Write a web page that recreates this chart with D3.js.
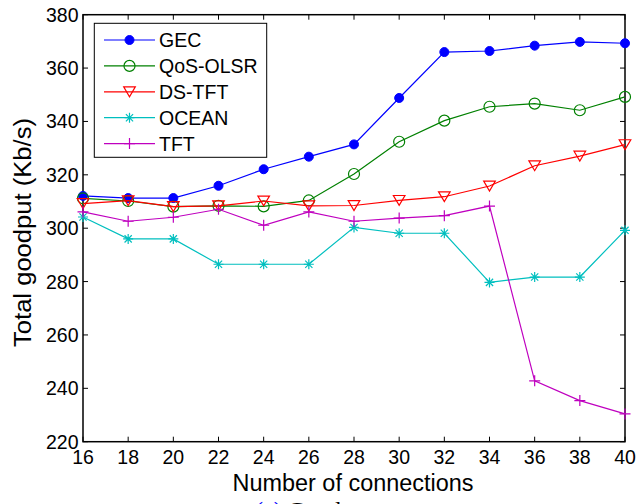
<!DOCTYPE html>
<html><head><meta charset="utf-8">
<script src="https://cdn.jsdelivr.net/npm/d3@7"></script>
<style>body{margin:0;background:#fff;} svg{display:block;}</style>
</head><body>
<script>
const xValues = [16,18,20,22,24,26,28,30,32,34,36,38,40];
const gec     = [312.1,311.3,311.3,315.9,322.1,326.8,331.4,348.8,366.0,366.4,368.4,369.8,369.3];
const qosOlsr = [311.2,310.2,308.1,308.4,308.2,310.4,320.3,332.4,340.3,345.5,346.7,344.2,349.2];
const dsTft   = [309.2,310.3,308.1,308.4,310.2,308.4,308.5,310.4,311.8,315.8,323.4,327.0,331.3];
const ocean   = [304.2,296.0,296.0,286.5,286.5,286.5,300.3,298.1,298.1,279.7,281.7,281.7,299.2];
const tft     = [306.1,302.6,304.1,307.1,301.1,306.1,302.6,303.8,304.7,308.3,242.8,235.4,230.4];
const seriesNames = ["GEC","QoS-OLSR","DS-TFT","OCEAN","TFT"];
const xTicks = [16,18,20,22,24,26,28,30,32,34,36,38,40];
const yTicks = [220,240,260,280,300,320,340,360,380];

const W = 639, H = 504;
const L = 83, R = 625, T = 14.7, B = 441.7;
const svg = d3.select("body").append("svg").attr("width", W).attr("height", H);
const x = d3.scaleLinear().domain([16,40]).range([L,R]);
const y = d3.scaleLinear().domain([220,380]).range([B,T]);
const font = "Liberation Sans, Arial, sans-serif";

const styles = [
  {color:"#0000ff", marker:"dot"},
  {color:"#008000", marker:"circle"},
  {color:"#ff0000", marker:"tri"},
  {color:"#00bfbf", marker:"star"},
  {color:"#bf00bf", marker:"plus"}
];
const data = [gec, qosOlsr, dsTft, ocean, tft];

function drawMarker(g, type, cx, cy, color) {
  if (type === "dot") {
    g.append("circle").attr("cx",cx).attr("cy",cy).attr("r",4.5).attr("fill",color).attr("stroke",color);
  } else if (type === "circle") {
    g.append("circle").attr("cx",cx).attr("cy",cy).attr("r",5.5).attr("fill","none").attr("stroke",color).attr("stroke-width",1.2);
  } else if (type === "tri") {
    const s = 5.8;
    g.append("path").attr("d",`M${cx-s},${cy-s*0.85}L${cx+s},${cy-s*0.85}L${cx},${cy+s*0.85}Z`)
      .attr("fill","none").attr("stroke",color).attr("stroke-width",1.2);
  } else if (type === "star") {
    const s = 5;
    let d = `M${cx-s},${cy}L${cx+s},${cy}M${cx},${cy-s}L${cx},${cy+s}`;
    const k = s*0.72;
    d += `M${cx-k},${cy-k}L${cx+k},${cy+k}M${cx-k},${cy+k}L${cx+k},${cy-k}`;
    g.append("path").attr("d",d).attr("stroke",color).attr("stroke-width",1.2).attr("fill","none");
  } else if (type === "plus") {
    const s = 5.5;
    g.append("path").attr("d",`M${cx-s},${cy}L${cx+s},${cy}M${cx},${cy-s}L${cx},${cy+s}`)
      .attr("stroke",color).attr("stroke-width",1.2).attr("fill","none");
  }
}

// axes box with inward ticks
const tickLen = 5;
const axG = svg.append("g").attr("stroke","#000").attr("stroke-width",1);
xTicks.forEach(t => {
  axG.append("line").attr("x1",x(t)).attr("x2",x(t)).attr("y1",B).attr("y2",B-tickLen);
  axG.append("line").attr("x1",x(t)).attr("x2",x(t)).attr("y1",T).attr("y2",T+tickLen);
});
yTicks.forEach(t => {
  axG.append("line").attr("x1",L).attr("x2",L+tickLen).attr("y1",y(t)).attr("y2",y(t));
  axG.append("line").attr("x1",R).attr("x2",R-tickLen).attr("y1",y(t)).attr("y2",y(t));
});
svg.append("rect").attr("x",L).attr("y",T).attr("width",R-L).attr("height",B-T)
  .attr("fill","none").attr("stroke","#000").attr("stroke-width",1.5);

// tick labels
svg.append("g").selectAll("text").data(xTicks).join("text")
  .attr("x",d=>x(d)).attr("y",463.5).attr("text-anchor","middle")
  .attr("font-family",font).attr("font-size",19.5).attr("fill","#000").text(d=>d);
svg.append("g").selectAll("text").data(yTicks).join("text")
  .attr("x",78.5).attr("y",d=>y(d)+7).attr("text-anchor","end")
  .attr("font-family",font).attr("font-size",19.5).attr("fill","#000").text(d=>d);

// axis titles
svg.append("text").attr("x",353).attr("y",491).attr("text-anchor","middle")
  .attr("font-family",font).attr("font-size",23).attr("fill","#000")
  .attr("textLength",241).attr("lengthAdjust","spacingAndGlyphs").text("Number of connections");
svg.append("text").attr("transform","translate(31,232.5) rotate(-90)").attr("text-anchor","middle")
  .attr("font-family",font).attr("font-size",23).attr("fill","#000")
  .attr("textLength",229).attr("lengthAdjust","spacingAndGlyphs").text("Total goodput (Kb/s)");

// caption, mostly cut off
const cap = svg.append("text").attr("x",255).attr("y",518).attr("font-family","Liberation Serif, Times New Roman, serif")
  .attr("font-size",24).attr("fill","#000");
cap.append("tspan").attr("fill","#0000ff").text("(a)");
cap.append("tspan").text(" Goodput");

// series
const line = d3.line().x((d,i)=>x(xValues[i])).y(d=>y(d));
data.forEach((vals, si) => {
  const st = styles[si];
  const g = svg.append("g");
  g.append("path").datum(vals).attr("d",line).attr("fill","none").attr("stroke",st.color).attr("stroke-width",1.2);
  vals.forEach((v,i) => drawMarker(g, st.marker, x(xValues[i]), y(v), st.color));
});

// legend
const lg = svg.append("g");
lg.append("rect").attr("x",94.3).attr("y",23.3).attr("width",172.4).attr("height",134)
  .attr("fill","#fff").attr("stroke","#000").attr("stroke-width",1);
seriesNames.forEach((name,i) => {
  const yy = 40 + i*25.9;
  const st = styles[i];
  lg.append("line").attr("x1",104).attr("x2",155).attr("y1",yy).attr("y2",yy).attr("stroke",st.color).attr("stroke-width",1.2);
  drawMarker(lg, st.marker, 129.5, yy, st.color);
  lg.append("text").attr("x",159).attr("y",yy+7).attr("font-family",font).attr("font-size",19.5)
    .attr("fill","#000").text(name);
});
</script>
</body></html>
